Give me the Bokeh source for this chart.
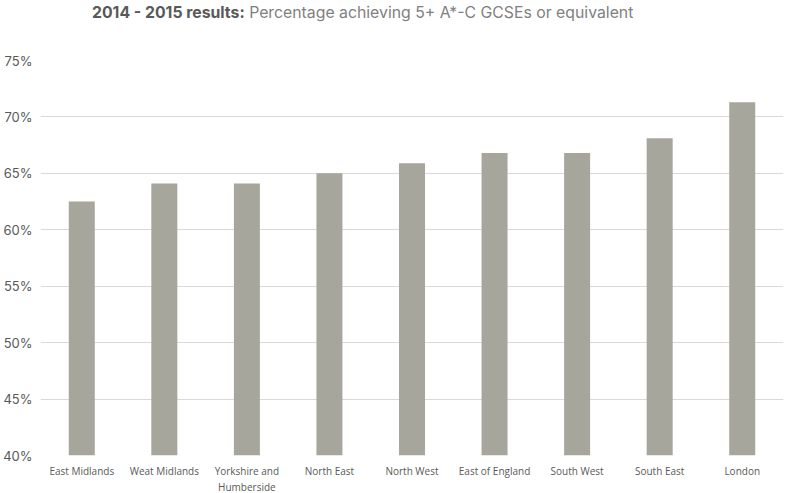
from bokeh.plotting import figure
from bokeh.models import NumeralTickFormatter, FixedTicker, Range1d, Div
from bokeh.layouts import column
from bokeh.embed import file_html
from bokeh.resources import INLINE

regions = ["East Midlands", "Weat Midlands", "Yorkshire and\nHumberside", "North East",
           "North West", "East of England", "South West", "South East", "London"]
values = [0.625, 0.641, 0.641, 0.650, 0.659, 0.668, 0.668, 0.681, 0.713]
y_ticks = [0.40, 0.45, 0.50, 0.55, 0.60, 0.65, 0.70, 0.75]
title_bold = "2014 - 2015 results:"
title_rest = "Percentage achieving 5+ A*-C GCSEs or equivalent"

p = figure(x_range=regions, y_range=Range1d(0.40, 0.75),
           frame_width=743, frame_height=395, output_backend="svg", toolbar_location=None,
           min_border_left=29, min_border_right=3, min_border_top=30, min_border_bottom=28)
p.outline_line_color = None
p.background_fill_color = "white"
p.border_fill_color = "white"

p.vbar(x=regions, top=values, bottom=0.40, width=0.315, color="#a6a69c", line_color=None)

p.xgrid.grid_line_color = None
p.ygrid.grid_line_color = "#d9d9d9"
p.ygrid.grid_line_width = 1
p.ygrid.ticker = FixedTicker(ticks=y_ticks)

p.yaxis.ticker = FixedTicker(ticks=y_ticks)
p.yaxis.formatter = NumeralTickFormatter(format="0%")
p.yaxis.axis_line_color = None
p.yaxis.major_tick_line_color = None
p.yaxis.minor_tick_line_color = None
p.yaxis.major_label_text_font = "Inter"
p.yaxis.major_label_text_font_size = "13px"
p.yaxis.major_label_text_color = "#595959"
p.yaxis.major_label_standoff = 2

p.xaxis.axis_line_color = None
p.xaxis.major_tick_line_color = None
p.xaxis.major_label_text_font = "Open Sans"
p.xaxis.major_label_text_font_size = "10px"
p.xaxis.major_label_text_color = "#595959"
p.xaxis.major_label_standoff = 2

div = Div(text=(f'<span style="font-weight:bold;color:#595959">{title_bold}</span> '
                f'<span style="color:#7f7f7f">{title_rest}</span>'),
          width=779, height=30, margin=(0, 0, 0, 0),
          styles={"font-family": "Inter", "font-size": "15.8px", "line-height": "18px",
                  "padding-top": "4px", "padding-left": "92px", "white-space": "nowrap"})

layout = column(div, p, spacing=0)

open("out.html", "w").write(file_html(layout, INLINE))
